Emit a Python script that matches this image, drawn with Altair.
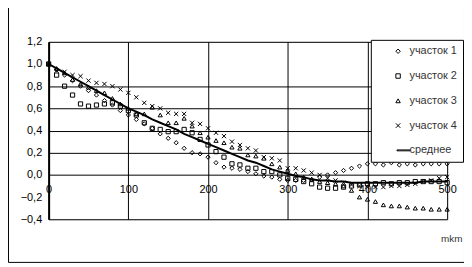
import altair as alt
import pandas as pd

x_vals = [0, 10, 20, 30, 40, 50, 60, 70, 80, 90, 100, 110, 120, 130, 140, 150, 160, 170, 180, 190,
          200, 210, 220, 230, 240, 250, 260, 270, 280, 290, 300, 310, 320, 330, 340, 350, 360, 370, 380, 390,
          400, 410, 420, 430, 440, 450, 460, 470, 480, 490, 500]

s1 = [1.00, 0.95, 0.90, 0.85, 0.80, 0.76, 0.72, 0.67, 0.63, 0.58, 0.54, 0.50, 0.46, 0.42, 0.37, 0.33, 0.29, 0.24, 0.20, 0.19,
      0.16, 0.11, 0.07, 0.06, 0.05, 0.03, 0.01, -0.01, -0.02, -0.04, -0.05, -0.05, -0.05, -0.04, -0.02, 0.00, 0.02, 0.04, 0.06, 0.08,
      0.10, 0.10, 0.09, 0.11, 0.09, 0.10, 0.09, 0.10, 0.10, 0.10, 0.10]
s2 = [1.00, 0.90, 0.80, 0.72, 0.64, 0.62, 0.63, 0.64, 0.65, 0.62, 0.58, 0.54, 0.47, 0.42, 0.41, 0.39, 0.39, 0.41, 0.38, 0.32,
      0.27, 0.21, 0.16, 0.10, 0.09, 0.06, 0.06, 0.03, 0.03, 0.00, -0.03, -0.04, -0.06, -0.08, -0.11, -0.12, -0.12, -0.11, -0.10, -0.09,
      -0.08, -0.08, -0.07, -0.08, -0.07, -0.07, -0.06, -0.06, -0.06, -0.06, -0.07]
s3 = [1.00, 0.96, 0.92, 0.86, 0.82, 0.79, 0.76, 0.74, 0.69, 0.64, 0.60, 0.55, 0.55, 0.61, 0.54, 0.47, 0.47, 0.51, 0.44, 0.38,
      0.34, 0.31, 0.29, 0.25, 0.24, 0.18, 0.17, 0.15, 0.10, 0.07, 0.04, 0.01, -0.02, -0.04, -0.06, -0.07, -0.08, -0.10, -0.14, -0.20,
      -0.22, -0.24, -0.27, -0.28, -0.28, -0.29, -0.30, -0.30, -0.31, -0.31, -0.31]
s4 = [1.00, 0.94, 0.93, 0.90, 0.89, 0.85, 0.83, 0.82, 0.80, 0.77, 0.74, 0.70, 0.65, 0.62, 0.60, 0.56, 0.55, 0.55, 0.47, 0.46,
      0.42, 0.38, 0.35, 0.30, 0.27, 0.24, 0.22, 0.16, 0.15, 0.13, 0.06, 0.06, 0.04, 0.02, 0.00, -0.03, -0.05, -0.07, -0.09, -0.10,
      -0.11, -0.11, -0.11, -0.10, -0.10, -0.09, -0.08, -0.06, -0.05, -0.03, -0.02]
mean = [1.00, 0.96, 0.92, 0.88, 0.84, 0.80, 0.76, 0.72, 0.68, 0.64, 0.60, 0.57, 0.54, 0.50, 0.47, 0.44, 0.41, 0.37, 0.34, 0.31,
        0.28, 0.25, 0.22, 0.19, 0.16, 0.13, 0.11, 0.08, 0.05, 0.03, 0.01, -0.01, -0.02, -0.04, -0.05, -0.05, -0.06, -0.06, -0.07, -0.07,
        -0.07, -0.07, -0.07, -0.07, -0.07, -0.07, -0.07, -0.06, -0.06, -0.06, -0.06]

names = ["участок 1", "участок 2", "участок 3", "участок 4", "среднее"]
x_ticks = [0, 100, 200, 300, 400, 500]
y_ticks = [-0.4, -0.2, 0.0, 0.2, 0.4, 0.6, 0.8, 1.0, 1.2]

rows = []
for name, vals in zip(names[:4], [s1, s2, s3, s4]):
    for xv, yv in zip(x_vals, vals):
        rows.append({"x": xv, "y": yv, "series": name})
pts = pd.DataFrame(rows)
mean_df = pd.DataFrame({"x": x_vals, "y": mean})

FONT = "Liberation Sans"
shape_range = ["diamond", "square", "triangle-up",
               "M-1,-1L1,1M-1,1L1,-1",
               "M-0.5,-0.2L5.4,-0.2L5.4,0.2L-0.5,0.2Z"]

xscale = alt.Scale(domain=[0, 500], nice=False, zero=False)
yscale = alt.Scale(domain=[-0.4, 1.2], nice=False, zero=False)


def make_x_axis():
    return alt.Axis(values=x_ticks, offset=-45, domain=False, ticks=False, grid=True,
                    gridColor="black", gridOpacity=1, gridWidth=1,
                    labelFont=FONT, labelFontSize=11, labelColor="black", labelPadding=9,
                    labelFlush=False, labelOverlap=False,
                    title="mkm", titleFont=FONT, titleFontSize=10, titleFontWeight="normal",
                    titleColor="#333333", titleX=417, titleY=64, titleAlign="right",
                    titleBaseline="middle", titleAnchor="end")


def make_y_axis():
    return alt.Axis(values=y_ticks, domain=True, domainColor="black", domainWidth=2,
                    ticks=False, grid=True, gridColor="black", gridWidth=1,
                    gridOpacity=alt.condition("abs(datum.value-1)<0.01 || abs(datum.value+0.2)<0.01",
                                              alt.value(0), alt.value(1)),
                    labelExpr="replace(format(datum.value, '.1f'), '.', ',')",
                    labelFont=FONT, labelFontSize=11, labelColor="black", labelPadding=7,
                    labelFlush=False, labelOverlap=False, title=None)


legend = alt.Legend(title=None, orient="none", legendX=325, legendY=-2,
                    fillColor="white", strokeColor="black",
                    padding=6, symbolOffset=16, rowPadding=13, labelOffset=6,
                    labelFont=FONT, labelFontSize=11, labelColor="#333333",
                    symbolSize=20, symbolStrokeColor="black", symbolStrokeWidth=1,
                    symbolFillColor="transparent")

border = alt.Chart(pd.DataFrame({"k": [0]})).mark_rect(
    fill=None, stroke="black", strokeWidth=1).encode(
    x=alt.value(-40.5), x2=alt.value(419.5), y=alt.value(-60), y2=alt.value(222.5))

points = alt.Chart(pts).mark_point(filled=False, color="black", size=18, strokeWidth=1, opacity=1).encode(
    x=alt.X("x:Q", scale=xscale, axis=make_x_axis()),
    y=alt.Y("y:Q", scale=yscale, axis=make_y_axis()),
    shape=alt.Shape("series:N", scale=alt.Scale(domain=names, range=shape_range), legend=legend),
)

line = alt.Chart(mean_df).mark_line(color="black", strokeWidth=2).encode(
    x=alt.X("x:Q", scale=xscale, axis=make_x_axis()),
    y=alt.Y("y:Q", scale=yscale, axis=make_y_axis()),
)

chart = alt.layer(points, line, border).properties(
    width=402, height=179,
    padding={"left": 41, "top": 33, "right": 17, "bottom": 44},
    autosize=alt.AutoSizeParams(type="none"),
).configure_view(stroke="black", strokeWidth=1).configure(background="white")

chart.save("out.html", embed_options={"renderer": "svg", "actions": False})
